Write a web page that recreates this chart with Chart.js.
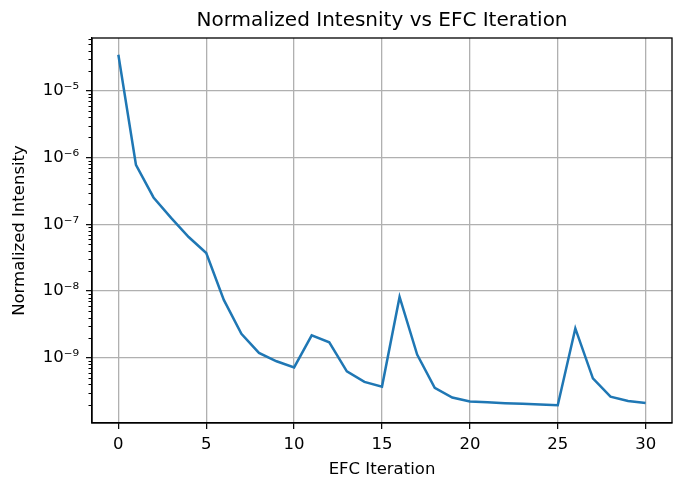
<!DOCTYPE html>
<html>
<head>
<meta charset="utf-8">
<script src="https://cdn.jsdelivr.net/npm/chart.js@4"></script>
<style>
  body { margin: 0; background: #fff; }
</style>
</head>
<body>
<canvas id="efcChart" width="684" height="491"></canvas>
<script>
  const iterations = [0, 1, 2, 3, 4, 5, 6, 7, 8, 9, 10,
    11, 12, 13, 14, 15, 16, 17, 18, 19, 20,
    21, 22, 23, 24, 25, 26, 27, 28, 29, 30];

  const intensity = [3.47e-5, 7.8e-7, 2.53e-7, 1.25e-7, 6.47e-8, 3.73e-8, 7.4e-9, 2.29e-9, 1.19e-9, 8.9e-10, 7.2e-10,
    2.18e-9, 1.71e-9, 6.3e-10, 4.37e-10, 3.72e-10, 8.2e-9, 1.12e-9, 3.56e-10, 2.55e-10, 2.22e-10,
    2.16e-10, 2.1e-10, 2.05e-10, 2.0e-10, 1.95e-10, 2.77e-9, 4.95e-10, 2.63e-10, 2.27e-10, 2.12e-10];

  const xTicks = [0, 5, 10, 15, 20, 25, 30];
  const yTicks = [1e-9, 1e-8, 1e-7, 1e-6, 1e-5];
  const yTickLabels = ['10\u207B\u2079', '10\u207B\u2078', '10\u207B\u2077', '10\u207B\u2076', '10\u207B\u2075'];

  const fontFamily = '"DejaVu Sans", sans-serif';

  // box around the plot plus small log minor ticks on the left spine
  const framePlugin = {
    id: 'frame',
    afterDraw(chart) {
      const ctx = chart.ctx;
      const a = chart.chartArea;
      const y = chart.scales.y;
      ctx.save();
      ctx.strokeStyle = '#000';
      ctx.lineWidth = 1.3;
      ctx.strokeRect(a.left, a.top, a.right - a.left, a.bottom - a.top);
      ctx.lineWidth = 1;
      ctx.beginPath();
      for (let e = -11; e <= -4; e++) {
        for (let k = 2; k <= 9; k++) {
          const v = k * Math.pow(10, e);
          if (v < y.min || v > y.max) continue;
          const py = Math.round(y.getPixelForValue(v)) + 0.5;
          ctx.moveTo(a.left, py);
          ctx.lineTo(a.left - 3.5, py);
        }
      }
      ctx.stroke();
      ctx.restore();
    }
  };

  const data = {
    datasets: [{
      label: 'Normalized Intensity',
      data: iterations.map((it, i) => ({ x: it, y: intensity[i] })),
      borderColor: '#1f77b4',
      borderWidth: 2.5,
      pointRadius: 0,
      tension: 0,
    }]
  };

  const config = {
    type: 'line',
    data: data,
    options: {
      responsive: false,
      animation: false,
      layout: {
        padding: { left: 0, right: 12, top: 0, bottom: 0 }
      },
      plugins: {
        legend: { display: false },
        tooltip: { enabled: false },
        title: {
          display: true,
          text: 'Normalized Intesnity vs EFC Iteration',
          fullSize: false,
          color: '#000',
          font: { family: fontFamily, size: 20, weight: 'normal' },
          padding: { top: 9, bottom: 5 }
        }
      },
      scales: {
        x: {
          type: 'linear',
          min: -1.5,
          max: 31.5,
          afterBuildTicks: (scale) => { scale.ticks = xTicks.map(v => ({ value: v })); },
          afterFit: (scale) => { scale.height = 68; },
          grid: {
            color: '#b0b0b0',
            lineWidth: 1.3,
            tickColor: '#000',
            tickWidth: 1.2,
            tickLength: 6,
          },
          border: { color: '#000', width: 1.3 },
          ticks: {
            color: '#000',
            padding: 6,
            maxRotation: 0,
            font: { family: fontFamily, size: 16.5 },
            callback: (v) => String(v)
          },
          title: {
            display: true,
            text: 'EFC Iteration',
            color: '#000',
            font: { family: fontFamily, size: 16.5 },
            padding: { top: 0, bottom: 11 }
          }
        },
        y: {
          type: 'logarithmic',
          min: 1.06e-10,
          max: 6.18e-5,
          afterBuildTicks: (scale) => { scale.ticks = yTicks.map(v => ({ value: v })); },
          afterFit: (scale) => { scale.width = 92; },
          grid: {
            color: '#b0b0b0',
            lineWidth: 1.3,
            tickColor: '#000',
            tickWidth: 1.2,
            tickLength: 6,
          },
          border: { color: '#000', width: 1.3 },
          ticks: {
            color: '#000',
            padding: 7,
            font: { family: fontFamily, size: 16.5 },
            callback: (v) => {
              const i = yTicks.findIndex(t => Math.abs(t - v) / t < 1e-6);
              return i >= 0 ? yTickLabels[i] : '';
            }
          },
          title: {
            display: true,
            text: 'Normalized Intensity',
            color: '#000',
            font: { family: fontFamily, size: 16.5 },
            padding: { top: 10, bottom: 0 }
          }
        }
      }
    },
    plugins: [framePlugin]
  };

  const chart = new Chart(
    document.getElementById('efcChart'),
    config
  );
</script>
</body>
</html>
